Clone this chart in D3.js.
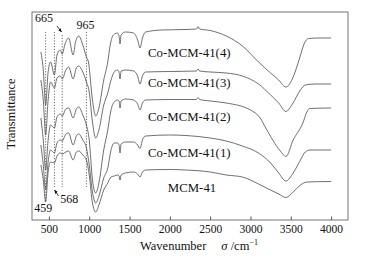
<!DOCTYPE html>
<html>
<head>
<meta charset="utf-8">
<script src="https://cdn.jsdelivr.net/npm/d3@7"></script>
<style>
  body { margin: 0; background: #fff; }
  svg { display: block; }
  text { font-family: "Liberation Serif", "DejaVu Serif", serif; }
  .spec { fill: none; stroke: #4a4a4a; stroke-width: 0.8; }
  .band { stroke: #444; stroke-width: 0.8; stroke-dasharray: 1.2,1.6; }
  .lbl { fill: #111; font-size: 12.8px; }
  .note { fill: #111; font-size: 12px; }
  .axis text { fill: #111; font-size: 11.5px; }
  .axis line { stroke: #555; }
</style>
</head>
<body>
<svg width="367" height="258"></svg>
<script>
var svg = d3.select("svg"),
    margin = {top: 12, right: 19, bottom: 38, left: 32},
    width = +svg.attr("width") - margin.left - margin.right,
    height = +svg.attr("height") - margin.top - margin.bottom;

// wavenumber (cm-1) and transmittance (a.u., offset stacked)
var co4 = [[400,168],[430,150],[459,115],[490,148],[520,158],[568,145],[600,165],[640,170],[665,166],[700,176],[745,182],[800,165],[830,178],[870,184],[920,175],[965,163],[990,158],[1040,120],[1080,104],[1120,112],[1180,140],[1230,158],[1260,175],[1300,185],[1350,187],[1370,184],[1382,176],[1395,185],[1450,188],[1550,187],[1600,180],[1630,172],[1660,182],[1700,188],[1900,190],[2200,190.5],[2330,191],[2350,193.5],[2370,191],[2500,189.5],[2700,184],[2900,174],[3100,158],[3250,147],[3350,140],[3440,133],[3530,143],[3610,162],[3670,177],[3720,181.5],[3850,182],[4000,182]];
var co3 = [[400,140],[430,120],[459,85],[490,120],[520,138],[568,132],[600,142],[640,144],[665,141],[710,150],[745,153],[800,141],[840,152],[870,154],[920,148],[965,138],[1000,128],[1040,98],[1080,82],[1120,90],[1180,115],[1230,127],[1270,140],[1310,148],[1350,150],[1370,148],[1382,141],[1395,149],[1450,150],[1550,149],[1600,144],[1630,136],[1660,144],[1700,148],[2000,148.5],[2330,149],[2350,151],[2370,149],[2500,148],[2700,147],[2900,144],[3100,136],[3250,125],[3350,117],[3440,108.5],[3520,116],[3620,130],[3680,135],[3800,136],[4000,136]];
var co2 = [[400,102],[430,80],[459,50],[490,80],[520,95],[568,92],[600,103],[640,106],[665,104],[710,111],[745,112],[800,102],[840,111],[870,113],[920,105],[965,95],[1000,80],[1040,40],[1080,27],[1120,37],[1180,70],[1230,90],[1270,110],[1310,118],[1350,120],[1370,119],[1382,112],[1395,119],[1450,121],[1550,120],[1600,116],[1630,110],[1660,117],[1700,120],[2000,120.5],[2330,120.5],[2350,122.5],[2370,120.5],[2500,119],[2700,117],[3000,110],[3120,102],[3190,92],[3370,69],[3440,63.5],[3530,80],[3650,97],[3700,108],[3730,111.5],[4000,112]];
var co1 = [[400,75],[430,55],[459,30],[490,58],[520,70],[568,67],[600,77],[640,80],[665,79],[710,86],[745,87],[800,75],[840,84],[870,86],[920,80],[965,72],[1000,55],[1040,28],[1080,17],[1120,24],[1180,42],[1230,52],[1270,70],[1310,77],[1350,77],[1370,75],[1382,67],[1395,76],[1450,78],[1550,78],[1600,75],[1630,71.5],[1660,80],[1700,84],[2000,85],[2200,84.5],[2500,82],[2700,79],[2900,74],[3100,67],[3250,57],[3350,47],[3440,39],[3530,47],[3620,60],[3680,68],[3740,70],[4000,70]];
var mcm = [[400,55],[430,40],[459,18],[490,48],[520,58],[568,57],[600,64],[640,67],[665,66],[710,68],[745,69],[800,60],[840,68],[870,69],[920,65],[965,60],[1000,45],[1040,17],[1080,8],[1120,15],[1180,30],[1230,37],[1270,43],[1310,44],[1350,45],[1370,44],[1382,40],[1395,45],[1450,47],[1550,48],[1600,46],[1630,43],[1660,48],[1700,50],[2000,50.5],[2200,50],[2500,48],[2700,45],[2900,43],[3100,36],[3250,30],[3350,26],[3440,22.5],[3530,28],[3620,35],[3700,38],[4000,38.5]];

var seriesNames = ["Co-MCM-41(4)", "Co-MCM-41(3)", "Co-MCM-41(2)", "Co-MCM-41(1)", "MCM-41"];
var seriesData = [co4, co3, co2, co1, mcm];
var labelAt = [[1730,163],[1730,133],[1730,99],[1730,63],[1975,28]];

var bands = [459, 568, 665, 965];
var xTicks = [500, 1000, 1500, 2000, 2500, 3000, 3500, 4000];

var x = d3.scaleLinear().domain([290, 4210]).range([0, width]);
var y = d3.scaleLinear().domain([0, 208]).range([height, 0]);

var g = svg.append("g").attr("transform", "translate(" + margin.left + "," + margin.top + ")");

var line = d3.line()
    .x(function (d) { return x(d[0]); })
    .y(function (d) { return y(d[1]); })
    .curve(d3.curveMonotoneX);

// dotted band markers
g.selectAll(".band")
    .data(bands)
  .enter().append("line")
    .attr("class", "band")
    .attr("x1", function (d) { return x(d); })
    .attr("x2", function (d) { return x(d); })
    .attr("y1", function (d) { return d == 665 ? y(185) : y(188); })
    .attr("y2", function (d) { return d == 459 ? y(18) : y(33); });

g.selectAll(".spec")
    .data(seriesData)
  .enter().append("path")
    .attr("class", "spec")
    .attr("d", line);

g.selectAll(".lbl")
    .data(seriesNames)
  .enter().append("text")
    .attr("class", "lbl")
    .attr("x", function (d, i) { return x(labelAt[i][0]); })
    .attr("y", function (d, i) { return y(labelAt[i][1]); })
    .text(function (d) { return d; });

// band numbers + little arrows
svg.append("defs").append("marker")
    .attr("id", "ah").attr("viewBox", "0 0 10 10")
    .attr("refX", 9).attr("refY", 5)
    .attr("markerWidth", 5).attr("markerHeight", 5)
    .attr("orient", "auto")
  .append("path").attr("d", "M0,1L10,5L0,9z").attr("fill", "#111");

g.append("text").attr("class", "note").attr("text-anchor", "middle")
    .attr("x", x(440)).attr("y", y(198)).text("665");
g.append("text").attr("class", "note").attr("text-anchor", "middle")
    .attr("x", x(955)).attr("y", y(191.5)).text("965");
g.append("text").attr("class", "note").attr("text-anchor", "middle")
    .attr("x", x(430)).attr("y", y(8)).text("459");
g.append("text").attr("class", "note")
    .attr("x", x(640)).attr("y", y(17)).text("568");

g.append("line")
    .attr("x1", x(600)).attr("y1", y(194))
    .attr("x2", x(655)).attr("y2", y(188))
    .attr("stroke", "#111").attr("stroke-width", 0.8)
    .attr("marker-end", "url(#ah)");
g.append("line")
    .attr("x1", x(620)).attr("y1", y(24))
    .attr("x2", x(570)).attr("y2", y(30))
    .attr("stroke", "#111").attr("stroke-width", 0.8)
    .attr("marker-end", "url(#ah)");

// axis, ticks inside
var ax = g.append("g")
    .attr("class", "axis")
    .attr("transform", "translate(0," + height + ")")
    .call(d3.axisBottom(x).tickValues(xTicks).tickFormat(d3.format("d"))
        .tickSizeInner(-3.5).tickSizeOuter(0).tickPadding(5));
ax.attr("font-family", null);
ax.select(".domain").remove();

g.append("rect")
    .attr("width", width).attr("height", height)
    .attr("fill", "none").attr("stroke", "#666").attr("stroke-width", 0.9);

var xt = svg.append("text")
    .attr("x", 140).attr("y", 250)
    .style("font-size", "12.5px").attr("fill", "#111");
xt.append("tspan").text("Wavenumber");
xt.append("tspan").attr("dx", 15).style("font-style", "italic").text("σ");
xt.append("tspan").text(" /cm");
xt.append("tspan").attr("dy", -5).style("font-size", "8px").text("−1");

svg.append("text")
    .attr("transform", "translate(15," + 114 + ") rotate(-90)")
    .attr("text-anchor", "middle")
    .style("font-size", "12.5px").attr("fill", "#111")
    .text("Transmittance");
</script>
</body>
</html>
